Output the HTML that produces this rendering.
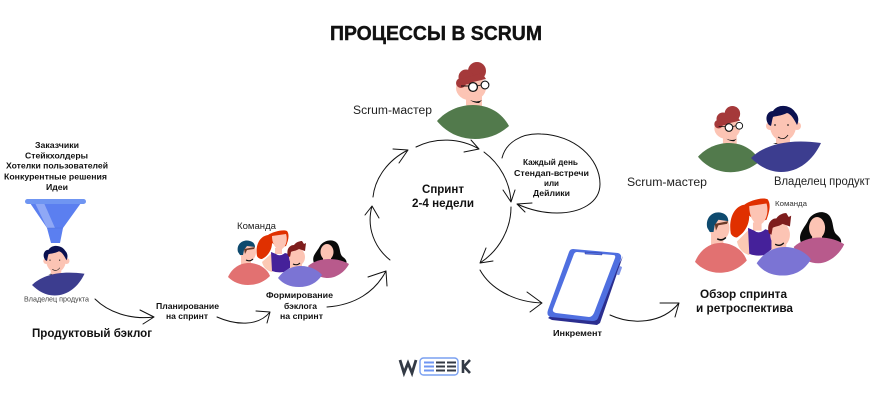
<!DOCTYPE html>
<html><head><meta charset="utf-8"><style>
html,body{margin:0;padding:0;background:#fff}
svg{display:block}
text{font-family:"Liberation Sans",sans-serif;fill:#111}
.b{font-weight:bold}
.a{fill:none;stroke:#111;stroke-width:1;stroke-linecap:round;stroke-linejoin:round}
</style></head><body>
<svg xmlns="http://www.w3.org/2000/svg" width="870" height="400" viewBox="0 0 870 400">
<defs>
<g id="owner">
<circle cx="19" cy="-12" r="4" fill="#fcc4b4"/><circle cx="46" cy="-12" r="4" fill="#fcc4b4"/>
<path d="M25 -6h14v12H25z" fill="#fcc4b4"/>
<ellipse cx="32" cy="-12" rx="13" ry="15" fill="#fcc4b4"/>
<path d="M18 -13C13 -19 16 -27 22 -27C27 -35 40 -33 44 -26C48 -22 48 -17 46 -13C43 -19 40 -24 36 -25C30 -22 24 -22 22 -21C21 -18 21 -16 20 -12Z" fill="#0b1150"/>
<path d="M27 -1q6 4 10-2" fill="none" stroke="#111" stroke-width=".8"/>
<path d="M24 -14v2M37 -14v2" stroke="#111" stroke-width="1"/>
<path d="M25 5q7 4 14 0l3 1H22z" fill="#111"/>
<path d="M0 20C12 8 35 0 70 5C62 22 48 34 30 34C18 34 8 28 0 20Z" fill="#3c3d8f"/>
</g>
<g id="scrum">
<path d="M29 -10h16v11l-4 2H32l-3-3Z" fill="#fcc4b4"/>
<ellipse cx="34" cy="-17" rx="15" ry="12.5" fill="#fcc4b4"/>
<circle cx="40" cy="-34" r="9" fill="#a5393a"/><circle cx="29" cy="-28" r="7.5" fill="#a5393a"/><circle cx="24" cy="-22" r="5" fill="#a5393a"/><path d="M24 -26l21 -6 4 6-13 3-8 2-5 2z" fill="#a5393a"/>
<circle cx="36" cy="-18" r="4.4" fill="#fff" stroke="#111" stroke-width="1.3"/><circle cx="48" cy="-20" r="3.9" fill="#fff" stroke="#111" stroke-width="1.1"/>
<path d="M24 -19h8M40 -19l4 -1" stroke="#111" stroke-width=".9"/>
<path d="M33 -5q7 3 12 0l-3 3q-5 0 -9 -3z" fill="#111"/>
<path d="M0 16C9 6 22 0 36 0C52 0 65 8 72 21C62 30 50 34 38 34C22 34 9 27 0 16Z" fill="#527a4c"/>
</g>
<g id="team">
<!-- p2 -->
<path d="M262 262L272 253L280 260L272 272Q264 270 262 262Z" fill="#fcc9b4"/>
<path d="M257 256C255 245 260 236 268 235C272 232 283 229 287 231C290 235 288 241 286 246L279 248L272 243C272 250 268 256 262 259C260 259 258 258 257 256Z" fill="#e03000"/>
<path d="M272 236L286 234C288 240 286 248 280 250C275 249 272 243 272 236Z" fill="#fcc4b4"/>
<path d="M275 248h7v6h-7z" fill="#fcc4b4"/>
<path d="M271 252L276 254Q280 257 285 253L292 255L294 265L284 272Q277 273 272 271Z" fill="#45219a"/>
<!-- p1 -->
<path d="M241 255h10v10h-10z" fill="#fcc4b4"/>
<ellipse cx="248" cy="252" rx="8" ry="9.5" fill="#fcc4b4"/>
<path d="M238 252C236 244 243 239 250 241C254 242 255 245 255 247L247 246L244 250L243 255L240 255Z" fill="#0e4a6e"/>
<path d="M244 249L255 247L254 249L247 250L245 254Z" fill="#6b3a28"/>
<path d="M246 260q4 2 7 -1" fill="none" stroke="#111" stroke-width="1.2"/>
<path d="M228 277C232 268 240 263 249 263C258 263 267 268 270 276C263 283 255 285 248 285C240 285 233 282 228 277Z" fill="#e27171"/>
<!-- p4 -->
<path d="M314 263C311 256 317 252 320 246C323 241 332 238 337 243C341 248 339 254 343 257C347 260 347 262 346 265L325 264Z" fill="#0a0a0a"/>
<ellipse cx="327" cy="252" rx="6.5" ry="8" fill="#fcc4b4"/>
<path d="M323 258h8v4h-8z" fill="#fcc4b4"/>
<path d="M308 266C314 261 322 259 329 259C337 259 344 261 349 264C345 272 336 278 328 278C319 278 312 273 308 266Z" fill="#b85a8c"/>
<!-- p3 -->
<path d="M290 261h12v7l-6 2-6-2z" fill="#fcc4b4"/>
<ellipse cx="297" cy="257" rx="8" ry="9" fill="#fcc4b4"/>
<path d="M288 256C286 250 289 245 294 245C296 242 300 241 302 241L304 244L306 243L305 251L299 249C296 251 292 251 291 252L290 257Z" fill="#7e1d1d"/>
<path d="M293 264q4 2 7 -1" fill="none" stroke="#111" stroke-width="1"/>
<path d="M278 278C283 271 291 266 301 266C310 266 318 270 322 275C317 283 309 287 299 287C290 287 283 284 278 278Z" fill="#7b74d4"/>
</g>
</defs>

<text x="330" y="40" class="b" font-size="20" textLength="212" lengthAdjust="spacingAndGlyphs" stroke="#111" stroke-width=".4">ПРОЦЕССЫ В SCRUM</text>

<!-- funnel -->
<path d="M30 203H81L63 228L60 243H51L47 228Z" fill="#5b7ff0"/>
<path d="M35 203H44L55 228H47Z" fill="#8fa8f6"/>
<path d="M47 228H63" stroke="#4a6cd8" stroke-width=".4"/>
<rect x="25" y="199" width="61" height="5" rx="2.5" fill="#6f95f2"/>

<g class="b" font-size="8.5">
<text x="35" y="148" textLength="44" lengthAdjust="spacingAndGlyphs">Заказчики</text>
<text x="25" y="158.5" textLength="63" lengthAdjust="spacingAndGlyphs">Стейкхолдеры</text>
<text x="6" y="168.5" textLength="102" lengthAdjust="spacingAndGlyphs">Хотелки пользователей</text>
<text x="4" y="179.5" textLength="103" lengthAdjust="spacingAndGlyphs">Конкурентные решения</text>
<text x="46" y="190" textLength="22" lengthAdjust="spacingAndGlyphs">Идеи</text>
</g>
<use href="#owner" transform="translate(32,270) scale(.75)"/>
<text x="24" y="301.5" font-size="7" textLength="65" lengthAdjust="spacingAndGlyphs" style="fill:#444">Владелец продукта</text>
<text x="32" y="337" class="b" font-size="12" textLength="120" lengthAdjust="spacingAndGlyphs">Продуктовый бэклог</text>
<g class="b" font-size="8">
<text x="156" y="309" textLength="63" lengthAdjust="spacingAndGlyphs">Планирование</text>
<text x="166" y="319" textLength="42" lengthAdjust="spacingAndGlyphs">на спринт</text>
<text x="266" y="298" textLength="67" lengthAdjust="spacingAndGlyphs">Формирование</text>
<text x="284" y="309" textLength="33" lengthAdjust="spacingAndGlyphs">бэклога</text>
<text x="280" y="319" textLength="43" lengthAdjust="spacingAndGlyphs">на спринт</text>
<text x="553" y="336" textLength="49" lengthAdjust="spacingAndGlyphs">Инкремент</text>
<text x="523" y="165" textLength="55" lengthAdjust="spacingAndGlyphs">Каждый день</text>
<text x="514" y="176" textLength="75" lengthAdjust="spacingAndGlyphs">Стендап-встречи</text>
<text x="544" y="186" textLength="15" lengthAdjust="spacingAndGlyphs">или</text>
<text x="533" y="196" textLength="37" lengthAdjust="spacingAndGlyphs">Дейлики</text>
</g>

<text x="237" y="229" font-size="9.5" textLength="39" lengthAdjust="spacingAndGlyphs" style="fill:#222">Команда</text>
<use href="#team"/>

<use href="#scrum" transform="translate(437,105)"/>
<text x="353" y="114" font-size="11.5" textLength="79" lengthAdjust="spacingAndGlyphs" style="fill:#222">Scrum-мастер</text>
<text x="422" y="193" class="b" font-size="11.5" textLength="42" lengthAdjust="spacingAndGlyphs">Спринт</text>
<text x="412" y="207" class="b" font-size="11.5" textLength="62" lengthAdjust="spacingAndGlyphs">2-4 недели</text>

<!-- right group -->
<use href="#scrum" transform="translate(698,143) scale(.86)"/>
<use href="#owner" transform="translate(751,138)"/>
<text x="627" y="186" font-size="11.5" textLength="80" lengthAdjust="spacingAndGlyphs" style="fill:#222">Scrum-мастер</text>
<text x="774" y="185" font-size="11.5" textLength="102" lengthAdjust="spacingAndGlyphs" style="fill:#222">Владелец продукта</text>
<use href="#team" transform="translate(695,198) scale(1.233,1.36) translate(-228,-230)"/>
<text x="775" y="206" font-size="7.5" textLength="32" lengthAdjust="spacingAndGlyphs" style="fill:#333">Команда</text>
<text x="700" y="298" class="b" font-size="11.5" textLength="87" lengthAdjust="spacingAndGlyphs">Обзор спринта</text>
<text x="696" y="312" class="b" font-size="11.5" textLength="97" lengthAdjust="spacingAndGlyphs">и ретроспектива</text>

<!-- phone -->
<path d="M620 262L623 256L600 323L597 325L552 320L548 318Z" fill="#2b2e8f"/>
<rect x="618" y="266" width="3" height="9" rx="1" fill="#7f93e8" transform="rotate(20 619 270)"/>
<path d="M573 249Q570 249 569 252L548 310Q546 316 551 317L592 321Q597 321 598 318L621 259Q622 254 618 253Z" fill="#4f6fe0"/>
<path d="M577 252L613 255Q616 255 615 258L594 313Q592 317 589 317L556 313Q552 312 553 309L574 254Q575 252 577 252Z" fill="#fff"/>
<path d="M585 252L602 253V255L585 254Z" fill="#4f6fe0" stroke="#2b2e8f" stroke-width=".4"/>

<!-- arrows -->
<g class="a">
<path d="M95 299C108 312 130 320 154 317M140 310L154 317L143 324"/>
<path d="M217 317C235 325 258 327 270 312M256 311L270 312L267 323"/>
<path d="M327 307C355 305 375 292 386 271M368 277L386 271L387 286"/>
<path d="M390 260C375 248 366 228 372 206M365 215L372 206L379 218"/>
<path d="M373 197C375 178 388 160 408 150M393 149L408 150L399 163"/>
<path d="M416 147C436 137 460 138 479 149M471 140L479 149L464 152"/>
<path d="M484 152C500 164 510 182 511 202M503 190L511 202L515 190"/>
<path d="M511 207C511 228 500 250 480 263M486 248L480 263L493 261"/>
<path d="M502 158C506 142 522 133 541 134C574 135 600 158 600 184C600 203 580 213 557 213C542 213 528 209 517 204M532 203L517 204L525 212"/>
<path d="M480 270C490 288 513 302 542 303M527 292L542 303L530 312"/>
<path d="M610 315C632 325 662 324 679 303M660 303L679 303L675 317"/>
</g>

<!-- logo -->
<path d="M400 360L404 373L408 363L412 373L416 360" fill="none" stroke="#333a45" stroke-width="2.8"/>
<rect x="420" y="358" width="38" height="17" rx="3.5" fill="#fff" stroke="#7aa0f0" stroke-width="1.4"/>
<g fill="#6f95f2"><rect x="424" y="361.5" width="10" height="2"/><rect x="424" y="365.5" width="10" height="2"/><rect x="424" y="369.5" width="10" height="2"/></g>
<g fill="#333a45"><rect x="436" y="361.5" width="9" height="2"/><rect x="436" y="365.5" width="9" height="2"/><rect x="436" y="369.5" width="9" height="2"/><rect x="447" y="361.5" width="9" height="2"/><rect x="447" y="365.5" width="9" height="2"/><rect x="447" y="369.5" width="9" height="2"/></g>
<path d="M463 360V373M470 360L464 366.5L470 373" fill="none" stroke="#333a45" stroke-width="2.6"/>
</svg>
</body></html>
